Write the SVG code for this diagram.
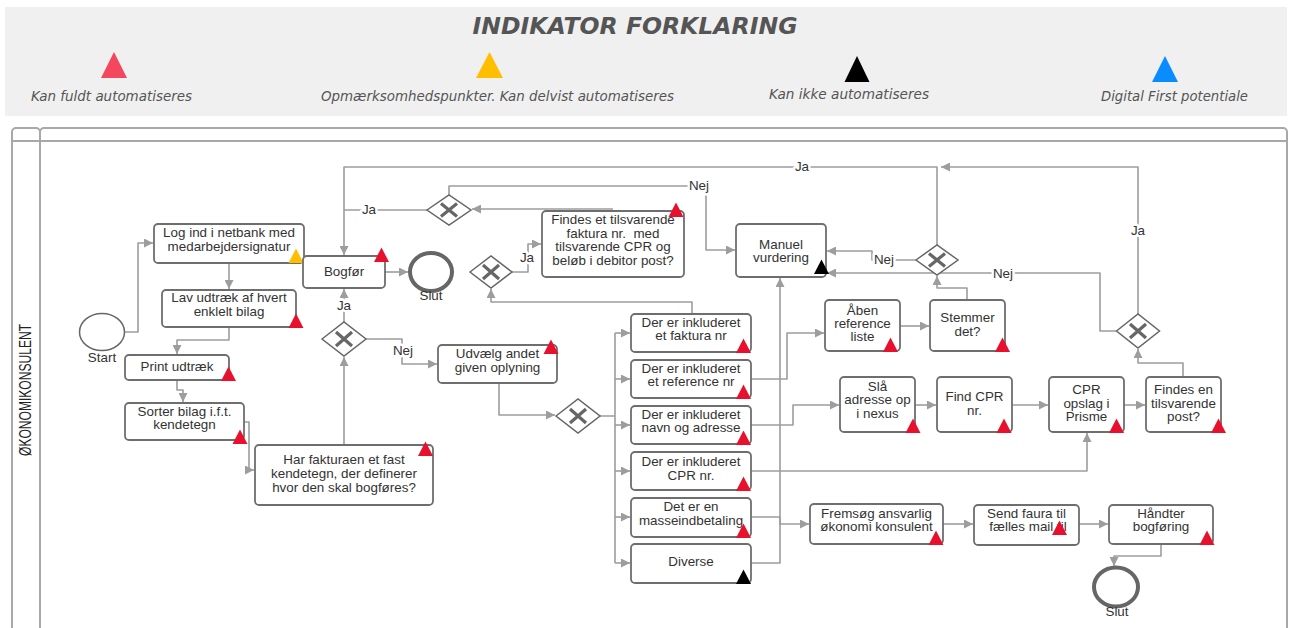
<svg xmlns="http://www.w3.org/2000/svg" xmlns:xlink="http://www.w3.org/1999/xlink" width="1289" height="628" viewBox="0 0 1289 628">
  <style>
    .legend { font-family: "DejaVu Sans", Verdana, sans-serif; font-style: italic; font-size: 13.5px; fill: #555; text-anchor: middle; }
    .title { font-family: "DejaVu Sans", Verdana, sans-serif; font-style: italic; font-weight: bold; font-size: 23px; fill: #555; text-anchor: middle; }
    .pool { fill: none; stroke: #a8a8a8; stroke-width: 2; }
    .lane { font-family: "Liberation Sans", Arial, sans-serif; font-size: 16px; fill: #222; text-anchor: middle; }
    .box { fill: #fff; stroke: #6e6e6e; stroke-width: 1.8; }
    .t { font-family: "Liberation Sans", Arial, sans-serif; font-size: 13.4px; fill: #333; text-anchor: middle; }
    .lbl { font-family: "Liberation Sans", Arial, sans-serif; font-size: 13.4px; fill: #333; text-anchor: middle; stroke: #fff; stroke-width: 5px; paint-order: stroke; stroke-linejoin: round; }
    .conn { fill: none; stroke: #9d9d9d; stroke-width: 1.6; stroke-linejoin: round; }
    .arr { marker-end: url(#arrow); }
    .gw { fill: #fff; stroke: #666; stroke-width: 1.5; }
    .gx { stroke: #666; stroke-width: 3.2; }
    .start { fill: #fff; stroke: #666; stroke-width: 1.5; }
    .end { fill: #fff; stroke: #666; stroke-width: 4; }
    .red { fill: #e8112d; }
    .blk { fill: #000; }
    .yel { fill: #ffbf00; }
  </style>
  <defs>
    <marker id="arrow" viewBox="0 0 10 10" refX="10" refY="5" markerWidth="11" markerHeight="9" markerUnits="userSpaceOnUse" orient="auto">
      <path d="M0,0 L10,5 L0,10 Z" fill="#9d9d9d"/>
    </marker>
    <!-- indicator triangle, origin at bottom centre -->
    <path id="tri" d="M-7.5,0 L0,-14.5 L7.5,0 Z"/>
  </defs>

  <rect width="1289" height="628" fill="#fff"/>

  <!-- legend panel -->
  <g id="legend">
    <rect x="5" y="7" width="1282" height="109" fill="#f0f0f0"/>
    <text class="title" x="635" y="34" textLength="325" lengthAdjust="spacingAndGlyphs">INDIKATOR FORKLARING</text>
    <path d="M101,78 L114,52 L127,78 Z" fill="#f4475d"/>
    <path d="M476,78 L489.5,52 L503,78 Z" fill="#ffbf00"/>
    <path d="M844.5,82 L857,56 L869.5,82 Z" fill="#000"/>
    <path d="M1152,82 L1165,56 L1178,82 Z" fill="#0a8cff"/>
    <text class="legend" x="111.5" y="101" textLength="161" lengthAdjust="spacingAndGlyphs">Kan fuldt automatiseres</text>
    <text class="legend" x="497.5" y="101" textLength="353" lengthAdjust="spacingAndGlyphs">Opmærksomhedspunkter. Kan delvist automatiseres</text>
    <text class="legend" x="849" y="99" textLength="160" lengthAdjust="spacingAndGlyphs">Kan ikke automatiseres</text>
    <text class="legend" x="1174.5" y="101" textLength="147" lengthAdjust="spacingAndGlyphs">Digital First potentiale</text>
  </g>

  <!-- pool and lane -->
  <g id="pool">
    <rect class="pool" x="12" y="128" width="28" height="530" rx="4"/>
    <rect class="pool" x="40" y="128" width="1247" height="530" rx="4"/>
    <line class="pool" x1="12" y1="141" x2="1287" y2="141"/>
    <text class="lane" transform="translate(31,390) rotate(-90)" textLength="132" lengthAdjust="spacingAndGlyphs">ØKONOMIKONSULENT</text>
  </g>

  <!-- connectors -->
  <g id="connectors">
    <path class="conn arr" d="M125,332 H138 V243 H153"/>
    <path class="conn arr" d="M229,263 V289"/>
    <path class="conn arr" d="M229,327 V340 H177 V354"/>
    <path class="conn arr" d="M177,380 V390 H183 V402"/>
    <path class="conn arr" d="M244,422 H249 V470 H254"/>
    <path class="conn arr" d="M344,445 V357"/>
    <path class="conn arr" d="M344,322 V289"/>
    <path class="conn arr" d="M366,339 H402 V364 H437"/>
    <path class="conn arr" d="M385,272 H408"/>
    <path class="conn arr" d="M499,383 V415 H555"/>
    <path class="conn" d="M600,416 H615 M615,333 V563"/>
    <path class="conn arr" d="M615,333 H630"/>
    <path class="conn arr" d="M615,379 H630"/>
    <path class="conn arr" d="M615,425 H630"/>
    <path class="conn arr" d="M615,471 H630"/>
    <path class="conn arr" d="M615,517 H630"/>
    <path class="conn arr" d="M615,563 H630"/>
    <path class="conn arr" d="M692,314 V302 H491 V289"/>
    <path class="conn arr" d="M512,272 H528 V244 H541"/>
    <path class="conn arr" d="M613,209 H472"/>
    <path class="conn" d="M427,210 H344"/>
    <path class="conn arr" d="M449,195 V186 H706 V250 H735"/>
    <path class="conn arr" d="M937,245 V167 H344 V255"/>
    <path class="conn arr" d="M1138,314 V167 H941"/>
    <path class="conn arr" d="M916,260 H872 V251 H827"/>
    <path class="conn arr" d="M1116,331 H1100 V273 H827"/>
    <path class="conn arr" d="M967,300 V288 H937 V276"/>
    <path class="conn arr" d="M900,326 H929"/>
    <path class="conn arr" d="M751,379 H787 V333 H824"/>
    <path class="conn arr" d="M751,425 H793 V405 H839"/>
    <path class="conn arr" d="M915,405 H936"/>
    <path class="conn arr" d="M1012,405 H1048"/>
    <path class="conn arr" d="M1124,405 H1145"/>
    <path class="conn arr" d="M1183,377 V363 H1138 V349"/>
    <path class="conn arr" d="M751,471 H1087 V433"/>
    <path class="conn arr" d="M751,517 H780 V524 H809"/>
    <path class="conn arr" d="M751,563 H780 V278"/>
    <path class="conn arr" d="M943,524 H973"/>
    <path class="conn arr" d="M1079,524 H1108"/>
    <path class="conn arr" d="M1161,544 V556 H1114 V566"/>
    <!-- branch labels -->
    <text class="lbl" x="344" y="310">Ja</text>
    <text class="lbl" x="403" y="355">Nej</text>
    <text class="lbl" x="527" y="262">Ja</text>
    <text class="lbl" x="369" y="214">Ja</text>
    <text class="lbl" x="699" y="190">Nej</text>
    <text class="lbl" x="802" y="171">Ja</text>
    <text class="lbl" x="1138" y="235">Ja</text>
    <text class="lbl" x="884" y="264">Nej</text>
    <text class="lbl" x="1003" y="278">Nej</text>
  </g>

  <!-- events -->
  <g id="start">
    <ellipse class="start" cx="102" cy="332" rx="22.5" ry="18.5"/>
    <text class="t" x="102" y="362">Start</text>
  </g>
  <g id="slut1">
    <ellipse class="end" cx="431" cy="272" rx="21" ry="19"/>
    <text class="t" x="431" y="300">Slut</text>
  </g>
  <g id="slut2">
    <ellipse class="end" cx="1116" cy="587" rx="22" ry="19.5"/>
    <text class="t" x="1117" y="616">Slut</text>
  </g>

  <!-- gateways -->
  <g id="gw-fast">
    <polygon class="gw" points="322,339 344,322 366,339 344,356"/>
    <path class="gx" d="M336,332 L352,346 M352,332 L336,346"/>
  </g>
  <g id="gw-oplysning">
    <polygon class="gw" points="556,416 578,399 600,416 578,433"/>
    <path class="gx" d="M570,409 L586,423 M586,409 L570,423"/>
  </g>
  <g id="gw-faktura">
    <polygon class="gw" points="470,272 491,256 512,272 491,288"/>
    <path class="gx" d="M483,265 L499,279 M499,265 L483,279"/>
  </g>
  <g id="gw-findes">
    <polygon class="gw" points="427,210 449,195 471,210 449,225"/>
    <path class="gx" d="M441,203.5 L457,216.5 M457,203.5 L441,216.5"/>
  </g>
  <g id="gw-stemmer">
    <polygon class="gw" points="916,260 937,245 958,260 937,275"/>
    <path class="gx" d="M929,253.5 L945,266.5 M945,253.5 L929,266.5"/>
  </g>
  <g id="gw-post">
    <polygon class="gw" points="1116.5,331 1138,314 1159.5,331 1138,348"/>
    <path class="gx" d="M1130,324 L1146,338 M1146,324 L1130,338"/>
  </g>

  <!-- tasks -->
  <g id="login">
    <rect class="box" x="154" y="224" width="150" height="39" rx="4"/>
    <text class="t" x="229" y="237">Log ind i netbank med</text>
    <text class="t" x="229" y="251">medarbejdersignatur</text>
    <use xlink:href="#tri" x="296" y="263" class="yel"/>
  </g>
  <g id="bogfor">
    <rect class="box" x="303" y="256" width="82" height="32" rx="4"/>
    <text class="t" x="344" y="276">Bogfør</text>
    <use xlink:href="#tri" x="381.5" y="262" class="red"/>
  </g>
  <g id="udtraek">
    <rect class="box" x="162" y="290" width="134" height="37" rx="4"/>
    <text class="t" x="229" y="302">Lav udtræk af hvert</text>
    <text class="t" x="229" y="316">enklelt bilag</text>
    <use xlink:href="#tri" x="296" y="328" class="red"/>
  </g>
  <g id="print">
    <rect class="box" x="125" y="355" width="104" height="25" rx="4"/>
    <text class="t" x="177" y="371">Print udtræk</text>
    <use xlink:href="#tri" x="228.5" y="381" class="red"/>
  </g>
  <g id="sorter">
    <rect class="box" x="125" y="403" width="119" height="37" rx="4"/>
    <text class="t" x="184.5" y="416">Sorter bilag i.f.t.</text>
    <text class="t" x="184.5" y="429">kendetegn</text>
    <use xlink:href="#tri" x="240" y="444" class="red"/>
  </g>
  <g id="kendetegn">
    <rect class="box" x="255" y="445" width="178" height="60" rx="4"/>
    <text class="t" x="344" y="463.5">Har fakturaen et fast</text>
    <text class="t" x="344" y="478">kendetegn, der definerer</text>
    <text class="t" x="344" y="491.5">hvor den skal bogføres?</text>
    <use xlink:href="#tri" x="425.5" y="456" class="red"/>
  </g>
  <g id="udvaelg">
    <rect class="box" x="438" y="345" width="119" height="38" rx="4"/>
    <text class="t" x="497.5" y="358">Udvælg andet</text>
    <text class="t" x="497.5" y="372">given oplyning</text>
    <use xlink:href="#tri" x="551" y="354" class="red"/>
  </g>
  <g id="findes-faktura">
    <rect class="box" x="542" y="211" width="142" height="66" rx="4"/>
    <text class="t" x="613" y="224">Findes et tilsvarende</text>
    <text class="t" x="613" y="237.5">faktura nr.&#160; med</text>
    <text class="t" x="613" y="251">tilsvarende CPR og</text>
    <text class="t" x="613" y="264.5">beløb i debitor post?</text>
    <use xlink:href="#tri" x="676" y="217" class="red"/>
  </g>
  <g id="manuel">
    <rect class="box" x="736" y="224" width="90" height="53" rx="4"/>
    <text class="t" x="781" y="248.5">Manuel</text>
    <text class="t" x="781" y="261.5">vurdering</text>
    <use xlink:href="#tri" x="821.5" y="274" class="blk"/>
  </g>
  <g id="faktura-nr">
    <rect class="box" x="631" y="314" width="120" height="38" rx="4"/>
    <text class="t" x="691" y="327">Der er inkluderet</text>
    <text class="t" x="691" y="340">et faktura nr</text>
    <use xlink:href="#tri" x="743.5" y="353" class="red"/>
  </g>
  <g id="reference-nr">
    <rect class="box" x="631" y="360" width="120" height="38" rx="4"/>
    <text class="t" x="691" y="373">Der er inkluderet</text>
    <text class="t" x="691" y="386">et reference nr</text>
    <use xlink:href="#tri" x="743.5" y="399" class="red"/>
  </g>
  <g id="navn-adresse">
    <rect class="box" x="631" y="406" width="120" height="38" rx="4"/>
    <text class="t" x="691" y="419">Der er inkluderet</text>
    <text class="t" x="691" y="432">navn og adresse</text>
    <use xlink:href="#tri" x="743.5" y="445" class="red"/>
  </g>
  <g id="cpr-nr">
    <rect class="box" x="631" y="452" width="120" height="38" rx="4"/>
    <text class="t" x="691" y="465.5">Der er inkluderet</text>
    <text class="t" x="691" y="479.5">CPR nr.</text>
    <use xlink:href="#tri" x="743.5" y="491" class="red"/>
  </g>
  <g id="masseindbetaling">
    <rect class="box" x="631" y="498" width="120" height="39" rx="4"/>
    <text class="t" x="691" y="511">Det er en</text>
    <text class="t" x="691" y="524.5">masseindbetaling</text>
    <use xlink:href="#tri" x="743.5" y="538" class="red"/>
  </g>
  <g id="diverse">
    <rect class="box" x="631" y="544" width="120" height="39" rx="4"/>
    <text class="t" x="691" y="566">Diverse</text>
    <use xlink:href="#tri" x="743.5" y="584" class="blk"/>
  </g>
  <g id="aaben">
    <rect class="box" x="825" y="300" width="75" height="51" rx="4"/>
    <text class="t" x="862.5" y="314.5">Åben</text>
    <text class="t" x="862.5" y="328">reference</text>
    <text class="t" x="862.5" y="341">liste</text>
    <use xlink:href="#tri" x="890.5" y="352" class="red"/>
  </g>
  <g id="stemmer">
    <rect class="box" x="930" y="300" width="75" height="51" rx="4"/>
    <text class="t" x="967.5" y="322">Stemmer</text>
    <text class="t" x="967.5" y="335.5">det?</text>
    <use xlink:href="#tri" x="1002.5" y="352" class="red"/>
  </g>
  <g id="slaa-op">
    <rect class="box" x="840" y="377" width="75" height="55" rx="4"/>
    <text class="t" x="877.5" y="390.5">Slå</text>
    <text class="t" x="877.5" y="404">adresse op</text>
    <text class="t" x="877.5" y="418">i nexus</text>
    <use xlink:href="#tri" x="913" y="433" class="red"/>
  </g>
  <g id="find-cpr">
    <rect class="box" x="937" y="377" width="75" height="55" rx="4"/>
    <text class="t" x="974.5" y="401">Find CPR</text>
    <text class="t" x="974.5" y="414.5">nr.</text>
    <use xlink:href="#tri" x="1004" y="433" class="red"/>
  </g>
  <g id="cpr-opslag">
    <rect class="box" x="1049" y="377" width="75" height="55" rx="4"/>
    <text class="t" x="1086.5" y="394">CPR</text>
    <text class="t" x="1086.5" y="408">opslag i</text>
    <text class="t" x="1086.5" y="421">Prisme</text>
    <use xlink:href="#tri" x="1116.5" y="433" class="red"/>
  </g>
  <g id="findes-post">
    <rect class="box" x="1146" y="377" width="75" height="55" rx="4"/>
    <text class="t" x="1183.5" y="394">Findes en</text>
    <text class="t" x="1183.5" y="408">tilsvarende</text>
    <text class="t" x="1183.5" y="421">post?</text>
    <use xlink:href="#tri" x="1218.5" y="433" class="red"/>
  </g>
  <g id="fremsoeg">
    <rect class="box" x="810" y="504" width="133" height="40" rx="4"/>
    <text class="t" x="876.5" y="518">Fremsøg ansvarlig</text>
    <text class="t" x="876.5" y="531">økonomi konsulent</text>
    <use xlink:href="#tri" x="936" y="545" class="red"/>
  </g>
  <g id="send">
    <rect class="box" x="974" y="505" width="105" height="40" rx="4"/>
    <text class="t" x="1026.5" y="518">Send faura til</text>
    <text class="t" x="1028" y="531">fælles mail til</text>
    <use xlink:href="#tri" x="1059.5" y="535" class="red"/>
  </g>
  <g id="haandter">
    <rect class="box" x="1109" y="505" width="104" height="39" rx="4"/>
    <text class="t" x="1161" y="518">Håndter</text>
    <text class="t" x="1161" y="531">bogføring</text>
    <use xlink:href="#tri" x="1207" y="545" class="red"/>
  </g>
</svg>
